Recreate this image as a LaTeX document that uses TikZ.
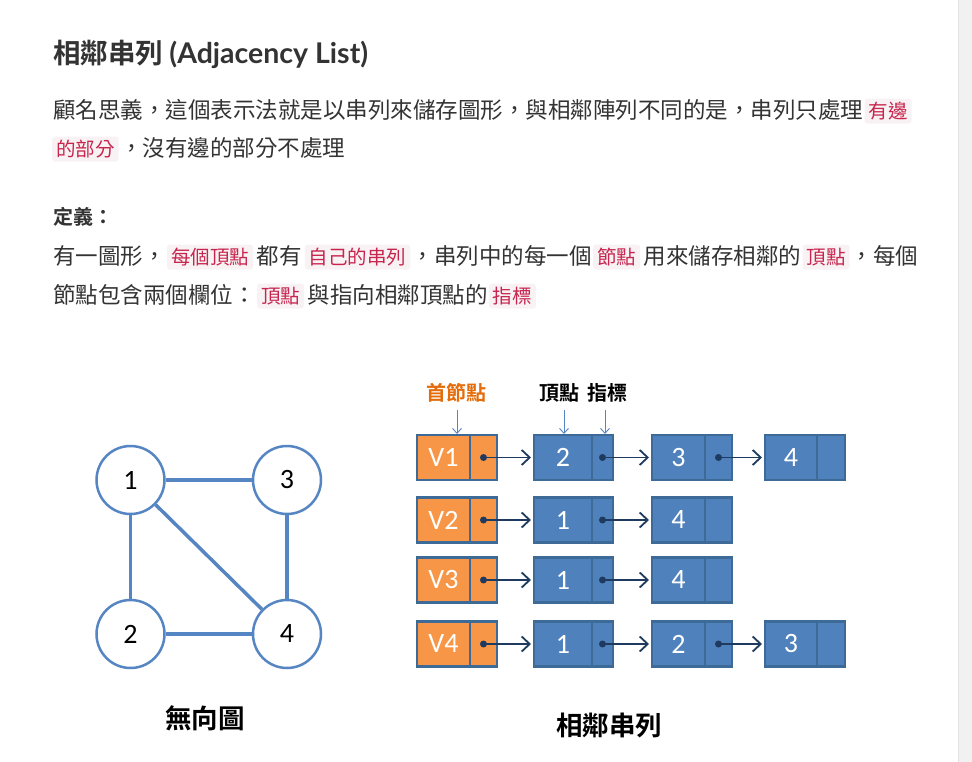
\documentclass[tikz,border=0pt]{standalone}
\usepackage{fontspec}
\setmainfont{Noto Sans CJK TC}[BoldFont={Noto Sans CJK TC Bold}]
\newfontfamily\latofont{Lato}[BoldFont={Lato Bold}]
\newfontfamily\carlfont{Carlito}
\usetikzlibrary{arrows.meta}
\definecolor{txt}{HTML}{333333}
\definecolor{codebg}{HTML}{F9F2F4}
\definecolor{codefg}{HTML}{C7254E}
\definecolor{ora}{HTML}{F79646}
\definecolor{orat}{HTML}{E46C0A}
\definecolor{blu}{HTML}{4F81BD}
\definecolor{bord}{HTML}{3E6A98}
\definecolor{navy}{HTML}{1F3A5F}
\definecolor{gblue}{HTML}{5585C2}
\definecolor{scrollbg}{HTML}{F1F1F1}
\definecolor{scrollln}{HTML}{E2E2E2}
\newcommand\cellpair[7]{%
  \node[#7, anchor=west, minimum width=#4pt] (#1v) at (#2,#3) {#6};
  \node[#7, anchor=west, minimum width=#5pt] (#1p) at (#1v.east) {};
}
\tikzset{
  body/.style={anchor=base west, inner sep=0pt, text=txt, font=\fontsize{22.5}{27}\selectfont},
  code/.style={anchor=base west, inner xsep=4pt, inner ysep=3.5pt, fill=codebg, rounded corners=3pt, text=codefg, font=\fontsize{19.5}{24}\selectfont},
  circ/.style={circle, draw=gblue, line width=2.5pt, minimum size=68pt, inner sep=0pt, fill=white, font=\carlfont\fontsize{28}{32}\selectfont},
  gedge/.style={draw=gblue, line width=3.5pt},
  cell/.style={draw=bord, line width=2.2pt, minimum height=45pt, inner sep=0pt, outer sep=0pt, text=white, font=\carlfont\fontsize{28}{32}\selectfont},
  ocell/.style={cell, fill=ora},
  bcell/.style={cell, fill=blu},
  ptr/.style={draw=navy, line width=1.8pt, -{Straight Barb[length=8pt,width=15pt,line width=1.8pt]}, shorten >=3pt},
  lab/.style={draw=gblue, line width=0.9pt, -{Straight Barb[length=5pt,width=9pt]}},
  caption/.style={font=\bfseries\fontsize{26.5}{31}\selectfont, text=black},
}
\begin{document}
\begin{tikzpicture}[x=1pt,y=-1pt]
\useasboundingbox (0,0) rectangle (972,762);
\fill[white] (0,0) rectangle (972,762);
% scrollbar
\fill[scrollbg] (958,0) rectangle (972,762);
\draw[scrollln, line width=1pt] (958,0) -- (958,762);

% title
\node[anchor=base west, inner sep=0pt, text=txt, font=\bfseries\fontsize{27.5}{32}\selectfont] (title) at (53,64) {相鄰串列 {\latofont\bfseries\fontsize{28.5}{32}\selectfont (Adjacency List)}};

% paragraph 1
\node[body] (p1a) at (53,118.5) {顧名思義，這個表示法就是以串列來儲存圖形，與相鄰陣列不同的是，串列只處理};
\node[code] (p1b) at ([xshift=1pt]p1a.base east) {有邊};
\node[code] (p2a) at (52,156.5) {的部分};
\node[body] (p2b) at ([xshift=1pt]p2a.base east) {，沒有邊的部分不處理};

% definition
\node[body, font=\bfseries\fontsize{20}{24}\selectfont] (def) at (53,225) {定義：};
\node[body] (l4a) at (53,264.5) {有一圖形，};
\node[code] (l4b) at ([xshift=1pt]l4a.base east) {每個頂點};
\node[body] (l4c) at ([xshift=3pt]l4b.base east) {都有};
\node[code] (l4d) at ([xshift=3pt]l4c.base east) {自己的串列};
\node[body] (l4e) at ([xshift=1pt]l4d.base east) {，串列中的每一個};
\node[code] (l4f) at ([xshift=1pt]l4e.base east) {節點};
\node[body] (l4g) at ([xshift=3pt]l4f.base east) {用來儲存相鄰的};
\node[code] (l4h) at ([xshift=1pt]l4g.base east) {頂點};
\node[body] (l4i) at ([xshift=1pt]l4h.base east) {，每個};
\node[body] (l5a) at (53,303.5) {節點包含兩個欄位：};
\node[code] (l5b) at ([xshift=1pt]l5a.base east) {頂點};
\node[body] (l5c) at ([xshift=3pt]l5b.base east) {與指向相鄰頂點的};
\node[code] (l5d) at ([xshift=1pt]l5c.base east) {指標};

% undirected graph
\node[circ] (g1) at (130.5,480) {1};
\node[circ] (g3) at (287,480) {3};
\node[circ] (g2) at (130.5,634) {2};
\node[circ] (g4) at (287,634) {4};
\draw[gedge] (g1) -- (g3);
\draw[gedge] (g1) -- (g2);
\draw[gedge] (g3) -- (g4);
\draw[gedge] (g2) -- (g4);
\draw[gedge] (g1) -- (g4);
\node[caption] (capg) at (205,718) {無向圖};

% adjacency list
\cellpair{r1c0}{417}{457.5}{53}{27}{V1}{ocell}
\cellpair{r1c1}{534}{457.5}{58}{21}{2}{bcell}
\cellpair{r1c2}{652}{457.5}{53}{27}{3}{bcell}
\cellpair{r1c3}{765}{457.5}{52}{28}{4}{bcell}

\cellpair{r2c0}{417}{520}{53}{27}{V2}{ocell}
\cellpair{r2c1}{534}{520}{58}{21}{1}{bcell}
\cellpair{r2c2}{652}{520}{53}{27}{4}{bcell}

\cellpair{r3c0}{417}{580}{53}{27}{V3}{ocell}
\cellpair{r3c1}{534}{580}{58}{21}{1}{bcell}
\cellpair{r3c2}{652}{580}{53}{27}{4}{bcell}

\cellpair{r4c0}{417}{644}{53}{27}{V4}{ocell}
\cellpair{r4c1}{534}{644}{58}{21}{1}{bcell}
\cellpair{r4c2}{652}{644}{53}{27}{2}{bcell}
\cellpair{r4c3}{765}{644}{52}{28}{3}{bcell}

\foreach \a/\b in {r1c0/r1c1, r1c1/r1c2, r1c2/r1c3, r2c0/r2c1, r2c1/r2c2, r3c0/r3c1, r3c1/r3c2, r4c0/r4c1, r4c1/r4c2, r4c2/r4c3}{
  \fill[navy] (\a p.center) circle (3.5pt);
  \draw[ptr] (\a p.center) -- (\b v.west);
}

% labels
\node[font=\bfseries\fontsize{20}{24}\selectfont, text=orat] (lhead) at (456,393) {首節點};
\node[font=\bfseries\fontsize{20}{24}\selectfont, text=black] (lval) at (559,393) {頂點};
\node[font=\bfseries\fontsize{20}{24}\selectfont, text=black] (lptr) at (607,393) {指標};
\coordinate (t1) at (457,410); \coordinate (h1) at (457,434);
\coordinate (t2) at (564,410); \coordinate (h2) at (564,434);
\coordinate (t3) at (605,410); \coordinate (h3) at (605,434);
\draw[lab] (t1) -- (h1);
\draw[lab] (t2) -- (h2);
\draw[lab] (t3) -- (h3);

\node[caption] (capl) at (609,725) {相鄰串列};
\end{tikzpicture}
\end{document}
